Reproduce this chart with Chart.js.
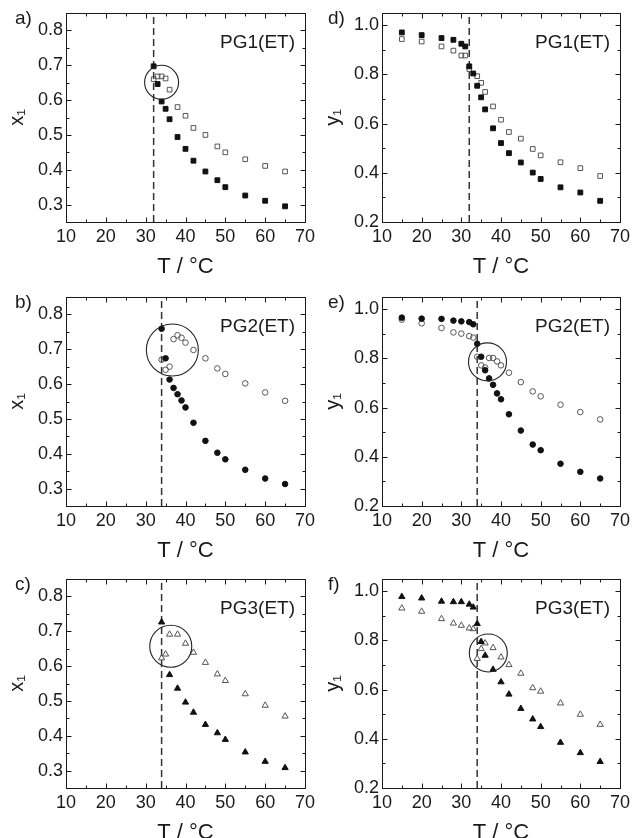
<!DOCTYPE html>
<html>
<head>
<meta charset="utf-8">
<script src="https://cdn.jsdelivr.net/npm/chart.js@4.4.0/dist/chart.umd.min.js"></script>
<style>
html, body { margin: 0; padding: 0; background: #fff; width: 633px; height: 838px; overflow: hidden; }
canvas { position: absolute; }
</style>
</head>
<body>
<canvas id="pa" width="316" height="280" style="left:0;top:0"></canvas>
<canvas id="pd" width="317" height="280" style="left:316px;top:0"></canvas>
<canvas id="pb" width="316" height="280" style="left:0;top:284px"></canvas>
<canvas id="pe" width="317" height="280" style="left:316px;top:284px"></canvas>
<canvas id="pc" width="316" height="280" style="left:0;top:566px"></canvas>
<canvas id="pf" width="317" height="280" style="left:316px;top:566px"></canvas>
<script>
// tick labels
var T_TICKS  = [10, 20, 30, 40, 50, 60, 70];
var X1_TICKS = [0.3, 0.4, 0.5, 0.6, 0.7, 0.8];
var Y1_TICKS = [0.2, 0.4, 0.6, 0.8, 1.0];

// a) PG1(ET) x1
var aT_f = [32, 33, 34, 35, 36, 38, 40, 42, 45, 48, 50, 55, 60, 65];
var aX_f = [0.697, 0.646, 0.596, 0.575, 0.545, 0.494, 0.46, 0.426, 0.395, 0.37, 0.35, 0.326, 0.311, 0.295];
var aT_o = [32, 33, 34, 35, 36, 38, 40, 42, 45, 48, 50, 55, 60, 65];
var aX_o = [0.66, 0.668, 0.668, 0.662, 0.63, 0.58, 0.555, 0.52, 0.5, 0.467, 0.45, 0.43, 0.411, 0.395];

// d) PG1(ET) y1
var dT_f = [15, 20, 25, 28, 30, 31, 32, 33, 34, 35, 36, 38, 40, 42, 45, 48, 50, 55, 60, 65];
var dY_f = [0.971, 0.96, 0.948, 0.941, 0.925, 0.914, 0.833, 0.804, 0.754, 0.707, 0.658, 0.581, 0.521, 0.48, 0.442, 0.401, 0.375, 0.341, 0.32, 0.286];
var dT_o = [15, 20, 25, 28, 30, 31, 32, 34, 35, 36, 38, 40, 42, 45, 48, 50, 55, 60, 65];
var dY_o = [0.944, 0.934, 0.914, 0.897, 0.877, 0.877, 0.822, 0.793, 0.766, 0.729, 0.67, 0.616, 0.566, 0.539, 0.497, 0.471, 0.443, 0.419, 0.387];

// b) PG2(ET) x1
var bT_f = [34, 35, 36, 37, 38, 39, 40, 42, 45, 48, 50, 55, 60, 65];
var bX_f = [0.759, 0.674, 0.613, 0.589, 0.571, 0.553, 0.533, 0.489, 0.437, 0.403, 0.384, 0.354, 0.329, 0.313];
var bT_o = [34, 35, 36, 37, 38, 39, 40, 42, 45, 48, 50, 55, 60, 65];
var bX_o = [0.67, 0.641, 0.65, 0.729, 0.74, 0.733, 0.719, 0.698, 0.674, 0.645, 0.629, 0.602, 0.576, 0.552];

// e) PG2(ET) y1
var eT_f = [15, 20, 25, 28, 30, 32, 33, 34, 35, 36, 37, 38, 39, 40, 42, 45, 48, 50, 55, 60, 65];
var eY_f = [0.966, 0.962, 0.961, 0.954, 0.951, 0.948, 0.939, 0.86, 0.807, 0.752, 0.719, 0.693, 0.658, 0.634, 0.573, 0.507, 0.45, 0.427, 0.372, 0.339, 0.312];
var eT_o = [15, 20, 25, 28, 30, 32, 33, 34, 35, 36, 37, 38, 39, 40, 42, 45, 48, 50, 55, 60, 65];
var eY_o = [0.958, 0.943, 0.924, 0.906, 0.901, 0.891, 0.885, 0.807, 0.772, 0.763, 0.802, 0.802, 0.788, 0.772, 0.742, 0.704, 0.666, 0.646, 0.612, 0.582, 0.552];

// c) PG3(ET) x1
var cT_f = [34, 36, 38, 40, 42, 45, 48, 50, 55, 60, 65];
var cX_f = [0.726, 0.575, 0.536, 0.496, 0.467, 0.432, 0.408, 0.389, 0.353, 0.326, 0.308];
var cT_o = [34, 35, 36, 38, 40, 42, 45, 48, 50, 55, 60, 65];
var cX_o = [0.623, 0.634, 0.691, 0.691, 0.665, 0.639, 0.61, 0.577, 0.558, 0.52, 0.487, 0.456];

// f) PG3(ET) y1
var fT_f = [15, 20, 25, 28, 30, 32, 33, 34, 35, 36, 38, 40, 42, 45, 48, 50, 55, 60, 65];
var fY_f = [0.978, 0.972, 0.959, 0.957, 0.957, 0.947, 0.935, 0.868, 0.795, 0.739, 0.682, 0.631, 0.581, 0.523, 0.48, 0.449, 0.385, 0.343, 0.307];
var fT_o = [15, 20, 25, 28, 30, 32, 33, 34, 35, 36, 38, 40, 42, 45, 48, 50, 55, 60, 65];
var fY_o = [0.931, 0.918, 0.888, 0.87, 0.861, 0.85, 0.847, 0.726, 0.766, 0.789, 0.77, 0.732, 0.701, 0.666, 0.607, 0.593, 0.545, 0.499, 0.458];

// cloud point (dashed line) and circled region, per panel a, d, b, e, c, f
var DASH_T = [32, 32, 34, 34, 34, 34];
var RING_T = [34, null, 36.7, 36.6, 36.3, 36.8];
var RING_V = [0.651, null, 0.698, 0.786, 0.657, 0.749];

function pts(t, v) {
	var out = [];
	for (var i = 0; i < t.length; i++) {
		out.push({x: t[i], y: v[i]});
	}
	return out;
}

var FONT = '"Liberation Sans", Arial, sans-serif';

// frame with inward ticks on all sides, panel tag and sample name
var boxPlugin = {
	id: 'box',
	afterDraw: function (chart, args, opts) {
		var ctx = chart.ctx, a = chart.chartArea;
		var xs = chart.scales.x, ys = chart.scales.y;
		var L = Math.round(a.left) + 0.5, R = Math.round(a.right) + 0.5;
		var Tp = Math.round(a.top) + 0.5, B = Math.round(a.bottom) + 0.5;
		ctx.save();
		ctx.strokeStyle = '#1a1a1a';
		ctx.lineWidth = 1;
		ctx.strokeRect(L, Tp, R - L, B - Tp);
		ctx.beginPath();
		for (var t = 10; t <= 70; t += 5) {
			var px = Math.round(xs.getPixelForValue(t)) + 0.5;
			var len = (t % 10 === 0) ? 5 : 3;
			ctx.moveTo(px, B); ctx.lineTo(px, B - len);
			ctx.moveTo(px, Tp); ctx.lineTo(px, Tp + len);
		}
		for (var v = opts.yMin; v <= opts.yMax + 1e-9; v += opts.yMinor) {
			var py = Math.round(ys.getPixelForValue(v)) + 0.5;
			var major = opts.yLabels.some(function (l) { return Math.abs(l - v) < 1e-6; });
			var ln = major ? 5 : 3;
			ctx.moveTo(L, py); ctx.lineTo(L + ln, py);
			ctx.moveTo(R, py); ctx.lineTo(R - ln, py);
		}
		ctx.stroke();

		ctx.fillStyle = '#1a1a1a';
		ctx.font = '19px ' + FONT;
		ctx.textBaseline = 'alphabetic';
		ctx.textAlign = 'left';
		ctx.fillText(opts.tag, opts.tagX, a.top + 11);
		ctx.textAlign = 'right';
		ctx.fillText(opts.name, a.right - 10, a.top + 35);
		ctx.restore();
	}
};

// keep chart area fixed: no extra room for edge labels
function noPad(s) {
	s.paddingTop = 0;
	s.paddingBottom = 0;
	s.paddingLeft = 0;
	s.paddingRight = 0;
}

function makePanel(canvasId, idx, p) {
	var filled = {
		label: 'filled',
		data: pts(p.tF, p.vF),
		pointStyle: p.marker,
		pointRadius: p.marker === 'rect' ? 3.4 : (p.marker === 'triangle' ? 3.6 : 2.8),
		backgroundColor: '#111',
		borderColor: '#111',
		borderWidth: 1,
		order: 1
	};
	var open = {
		label: 'open',
		data: pts(p.tO, p.vO),
		pointStyle: p.marker,
		pointRadius: p.marker === 'rect' ? 3.3 : (p.marker === 'triangle' ? 3.6 : 2.8),
		backgroundColor: 'rgba(255,255,255,0)',
		borderColor: '#555',
		borderWidth: 1,
		order: 2
	};
	var dash = {
		type: 'line',
		label: 'dash',
		data: [{x: DASH_T[idx], y: p.yMin}, {x: DASH_T[idx], y: p.yMax}],
		showLine: true,
		borderColor: '#333',
		borderWidth: 1.5,
		borderDash: [7, 4],
		pointRadius: 0,
		order: 3
	};
	var sets = [filled, open, dash];
	if (RING_T[idx] !== null) {
		sets.push({
			label: 'ring',
			data: [{x: RING_T[idx], y: RING_V[idx]}],
			pointStyle: 'circle',
			pointRadius: p.ringR,
			backgroundColor: 'rgba(255,255,255,0)',
			borderColor: '#222',
			borderWidth: 1.1,
			order: 0
		});
	}

	return new Chart(document.getElementById(canvasId).getContext('2d'), {
		type: 'scatter',
		data: { datasets: sets },
		plugins: [boxPlugin],
		options: {
			responsive: false,
			animation: false,
			events: [],
			layout: { autoPadding: false, padding: { left: 0, right: p.padRight, top: 13, bottom: 0 } },
			plugins: {
				legend: { display: false },
				tooltip: { enabled: false },
				box: { tag: p.tag, tagX: p.tagX, name: p.name, yMin: p.yMin, yMax: p.yMax, yMinor: p.yMinor, yLabels: p.yLabels }
			},
			scales: {
				x: {
					type: 'linear',
					min: 10,
					max: 70,
					afterBuildTicks: function (s) { s.ticks = T_TICKS.map(function (v) { return {value: v}; }); },
					afterFit: function (s) { s.height = 58; noPad(s); },
					grid: { display: false, drawTicks: false },
					border: { display: false },
					ticks: { color: '#1a1a1a', font: { family: FONT, size: 18 }, padding: 4, maxRotation: 0,
						callback: function (v) { return String(v); } },
					title: { display: true, text: 'T / °C', color: '#1a1a1a', font: { family: FONT, size: 22, lineHeight: 1 }, padding: { top: 0, bottom: 2 } }
				},
				y: {
					type: 'linear',
					min: p.yMin,
					max: p.yTop,
					afterBuildTicks: function (s) { s.ticks = p.yLabels.map(function (v) { return {value: v}; }); },
					afterFit: function (s) { s.width = 66; noPad(s); },
					grid: { display: false, drawTicks: false },
					border: { display: false },
					ticks: { color: '#1a1a1a', font: { family: FONT, size: 18 }, padding: 3,
						callback: function (v) { return Number(v).toFixed(1); } },
					title: { display: true, text: p.yTitle, color: '#1a1a1a', font: { family: FONT, size: 20, lineHeight: 1 }, padding: { top: 7, bottom: 0 } }
				}
			}
		}
	});
}

var leftCol  = { yMin: 0.25, yMax: 0.85, yTop: 0.85, yMinor: 0.05, yLabels: X1_TICKS, yTitle: 'x₁', padRight: 11, tagX: 15 };
var rightCol = { yMin: 0.2, yMax: 1.05, yTop: 1.05, yMinor: 0.1, yLabels: Y1_TICKS, yTitle: 'y₁', padRight: 13, tagX: 12 };

function merge(base, extra) {
	var o = {}, k;
	for (k in base) o[k] = base[k];
	for (k in extra) o[k] = extra[k];
	return o;
}

makePanel('pa', 0, merge(leftCol,  { tag: 'a)', name: 'PG1(ET)', marker: 'rect', tF: aT_f, vF: aX_f, tO: aT_o, vO: aX_o, ringR: 17 }));
makePanel('pd', 1, merge(rightCol, { tag: 'd)', name: 'PG1(ET)', marker: 'rect', tF: dT_f, vF: dY_f, tO: dT_o, vO: dY_o, ringR: 0 }));
makePanel('pb', 2, merge(leftCol,  { tag: 'b)', name: 'PG2(ET)', marker: 'circle', tF: bT_f, vF: bX_f, tO: bT_o, vO: bX_o, ringR: 26 }));
makePanel('pe', 3, merge(rightCol, { tag: 'e)', name: 'PG2(ET)', marker: 'circle', tF: eT_f, vF: eY_f, tO: eT_o, vO: eY_o, ringR: 19 }));
makePanel('pc', 4, merge(leftCol,  { tag: 'c)', name: 'PG3(ET)', marker: 'triangle', tF: cT_f, vF: cX_f, tO: cT_o, vO: cX_o, ringR: 21 }));
makePanel('pf', 5, merge(rightCol, { tag: 'f)', name: 'PG3(ET)', marker: 'triangle', tF: fT_f, vF: fY_f, tO: fT_o, vO: fY_o, ringR: 19 }));
</script>
</body>
</html>
